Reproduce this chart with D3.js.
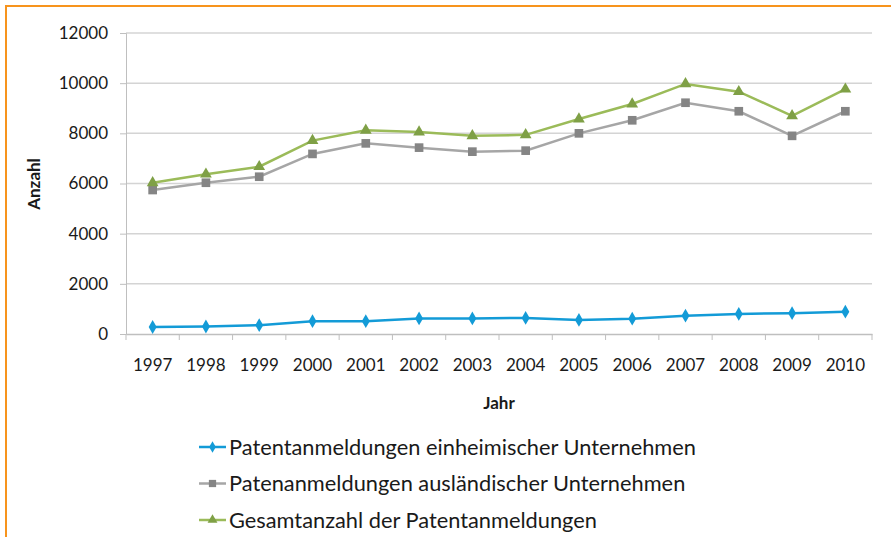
<!DOCTYPE html>
<html>
<head>
<meta charset="utf-8">
<script src="https://cdn.jsdelivr.net/npm/d3@7"></script>
<style>
  html, body { margin: 0; padding: 0; background: #fff; }
  svg { display: block; font-family: Lato, "Open Sans", sans-serif; }
</style>
</head>
<body>
<div id="chart"></div>
<script>
// data
var years = ['1997', '1998', '1999', '2000', '2001', '2002', '2003', '2004', '2005', '2006', '2007', '2008', '2009', '2010'];
var einheimisch = [280, 300, 350, 510, 510, 620, 620, 640, 560, 610, 730, 800, 830, 890];
var auslaendisch = [5740, 6030, 6270, 7180, 7600, 7430, 7270, 7310, 8000, 8520, 9220, 8880, 7900, 8880];
var gesamt = [6030, 6370, 6670, 7710, 8120, 8050, 7900, 7940, 8570, 9170, 9970, 9660, 8700, 9760];
var yTicks = [0, 2000, 4000, 6000, 8000, 10000, 12000];
var seriesNames = [
	'Patentanmeldungen einheimischer Unternehmen',
	'Patenanmeldungen ausländischer Unternehmen',
	'Gesamtanzahl der Patentanmeldungen'
];

var width = 891, height = 537;
var plot = {left: 126, right: 872, top: 33, bottom: 334};

var series = [
	{name: seriesNames[0], values: einheimisch, line: '#139bd7', fill: '#139bd7', symbol: d3.symbolDiamond, size: 55},
	{name: seriesNames[1], values: auslaendisch, line: '#a6a6a6', fill: '#858585', symbol: d3.symbolSquare, size: 75},
	{name: seriesNames[2], values: gesamt, line: '#9bbb59', fill: '#7fa046', symbol: d3.symbolTriangle, size: 60}
];

var svg = d3.select('#chart').append('svg')
	.attr('width', width)
	.attr('height', height);

// orange frame
svg.append('path')
	.attr('d', 'M6,' + height + 'V6H' + width)
	.attr('fill', 'none')
	.attr('stroke', '#f7941d')
	.attr('stroke-width', 2);

var x = d3.scaleBand().domain(years).range([plot.left, plot.right]);
var y = d3.scaleLinear().domain([0, 12000]).range([plot.bottom, plot.top]);

//////////////////////////////////////////////////
// grid + axes
//////////////////////////////////////////////////
svg.append('g').selectAll('line')
	.data(yTicks.filter(function(t) { return t > 0; }))
	.join('line')
	.attr('x1', plot.left).attr('x2', plot.right)
	.attr('y1', function(d) { return y(d); })
	.attr('y2', function(d) { return y(d); })
	.attr('stroke', '#d4d4d4')
	.attr('stroke-width', 1.5);

var yAxis = svg.append('g')
	.attr('transform', 'translate(' + plot.left + ',0)')
	.call(d3.axisLeft(y).tickValues(yTicks).tickSize(6).tickPadding(12).tickFormat(d3.format('d')));
yAxis.select('.domain').attr('stroke', '#bfbfbf');
yAxis.selectAll('.tick line').attr('stroke', '#bfbfbf');
yAxis.selectAll('.tick text')
	.attr('fill', '#1a1a1a')
	.style('font-size', '17px')
	.style('font-family', 'Lato, sans-serif');

var xAxis = svg.append('g')
	.attr('transform', 'translate(0,' + plot.bottom + ')')
	.call(d3.axisBottom(x).tickSize(0).tickPadding(25));
xAxis.select('.domain').attr('stroke', '#bfbfbf').attr('stroke-width', 1.5);
xAxis.selectAll('.tick text')
	.attr('fill', '#1a1a1a')
	.style('font-size', '17px')
	.style('font-family', 'Lato, sans-serif');

// tick marks at category boundaries
xAxis.append('g').selectAll('line')
	.data(d3.range(years.length + 1))
	.join('line')
	.attr('x1', function(i) { return plot.left + i * x.step(); })
	.attr('x2', function(i) { return plot.left + i * x.step(); })
	.attr('y1', 0).attr('y2', 6)
	.attr('stroke', '#bfbfbf');

// axis titles
svg.append('text')
	.attr('transform', 'translate(40,184) rotate(-90)')
	.attr('text-anchor', 'middle')
	.style('font-size', '17px')
	.style('font-weight', 'bold')
	.attr('fill', '#1a1a1a')
	.text('Anzahl');

svg.append('text')
	.attr('x', (plot.left + plot.right) / 2)
	.attr('y', 409)
	.attr('text-anchor', 'middle')
	.style('font-size', '17px')
	.style('font-weight', 'bold')
	.attr('fill', '#1a1a1a')
	.text('Jahr');

//////////////////////////////////////////////////
// lines + markers
//////////////////////////////////////////////////
var line = d3.line()
	.x(function(d, i) { return x(years[i]) + x.bandwidth() / 2; })
	.y(function(d) { return y(d); });

series.forEach(function(s) {
	var g = svg.append('g');
	g.append('path')
		.datum(s.values)
		.attr('d', line)
		.attr('fill', 'none')
		.attr('stroke', s.line)
		.attr('stroke-width', 2.5);
	g.selectAll('path.marker')
		.data(s.values)
		.join('path')
		.attr('class', 'marker')
		.attr('d', d3.symbol().type(s.symbol).size(s.size))
		.attr('transform', function(d, i) {
			return 'translate(' + (x(years[i]) + x.bandwidth() / 2) + ',' + y(d) + ')';
		})
		.attr('fill', s.fill);
});

//////////////////////////////////////////////////
// legend
//////////////////////////////////////////////////
var legend = svg.append('g').selectAll('g')
	.data(series)
	.join('g')
	.attr('transform', function(d, i) { return 'translate(199,' + (447 + i * 36.5) + ')'; });

legend.append('line')
	.attr('x1', 0).attr('x2', 27)
	.attr('stroke', function(d) { return d.line; })
	.attr('stroke-width', 2.5);
legend.append('path')
	.attr('d', function(d) { return d3.symbol().type(d.symbol).size(d.size * 0.7)(); })
	.attr('transform', 'translate(13.5,0)')
	.attr('fill', function(d) { return d.fill; });
legend.append('text')
	.attr('x', 30)
	.attr('dy', '0.35em')
	.style('font-size', '21.8px')
	.attr('fill', '#1a1a1a')
	.text(function(d) { return d.name; });
</script>
</body>
</html>
